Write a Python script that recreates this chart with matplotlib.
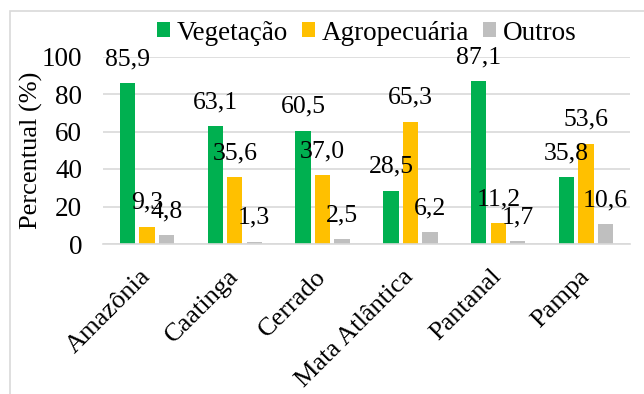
import numpy as np
import matplotlib.pyplot as plt
from matplotlib.patches import Rectangle

plt.rcParams['font.family'] = ['Liberation Serif', 'DejaVu Serif']

# Land use share per biome
biomes = ['Amazônia', 'Caatinga', 'Cerrado', 'Mata Atlântica', 'Pantanal', 'Pampa']
vegetacao = [85.9, 63.1, 60.5, 28.5, 87.1, 35.8]
agropecuaria = [9.3, 35.6, 37.0, 65.3, 11.2, 53.6]
outros = [4.8, 1.3, 2.5, 6.2, 1.7, 10.6]

series = [
    ('Vegetação', vegetacao, '#00B050'),
    ('Agropecuária', agropecuaria, '#FFC000'),
    ('Outros', outros, '#BFBFBF'),
]

fig = plt.figure(figsize=(6.44, 3.94), dpi=100)
ax = fig.add_axes([103 / 644, 1 - 244 / 394, 527 / 644, 187.5 / 394])

# light border around the chart area
fig.patches.append(Rectangle((10 / 644, -0.1), 1.2, 1 - 11 / 394 + 0.1,
                             transform=fig.transFigure, fill=False,
                             edgecolor='#D9D9D9', linewidth=1.2))

x = np.arange(len(biomes))
step = 0.222
width = 0.175
for i, (name, vals, color) in enumerate(series):
    pos = x + (i - 1) * step
    ax.bar(pos, vals, width, color=color, label=name, zorder=2)
    for px, v in zip(pos, vals):
        ax.annotate(f'{v:.1f}'.replace('.', ','), (px, v), xytext=(0, 17),
                    textcoords='offset points', ha='center', va='center',
                    fontsize=18.5, zorder=3)

ax.set_xlim(-0.5, len(biomes) - 0.5)
ax.set_ylim(0, 100)
ax.set_yticks(range(0, 101, 20))
ax.yaxis.grid(True, color='#D9D9D9', linewidth=1.2, zorder=0)
ax.set_axisbelow(True)
for side in ['top', 'right', 'left']:
    ax.spines[side].set_visible(False)
ax.spines['bottom'].set_color('#D9D9D9')
ax.spines['bottom'].set_linewidth(1.2)
ax.tick_params(axis='y', length=0, labelsize=19.5, pad=15)
ax.tick_params(axis='x', length=0, labelsize=19, pad=21)
ax.set_xticks(x)
ax.set_xticklabels(biomes, rotation=45, ha='right', va='center', rotation_mode='anchor')
ax.set_ylabel('Percentual (%)', fontsize=19)
ax.yaxis.set_label_coords(-0.114, 0.5)

ax.legend(loc='center', bbox_to_anchor=(0.5, (244 - 33) / 187.5), ncol=3,
          frameon=False, fontsize=19.5, handlelength=0.48, handleheight=0.48,
          handletextpad=0.26, columnspacing=0.5, borderaxespad=0)

fig.savefig('out.png', dpi=100)
